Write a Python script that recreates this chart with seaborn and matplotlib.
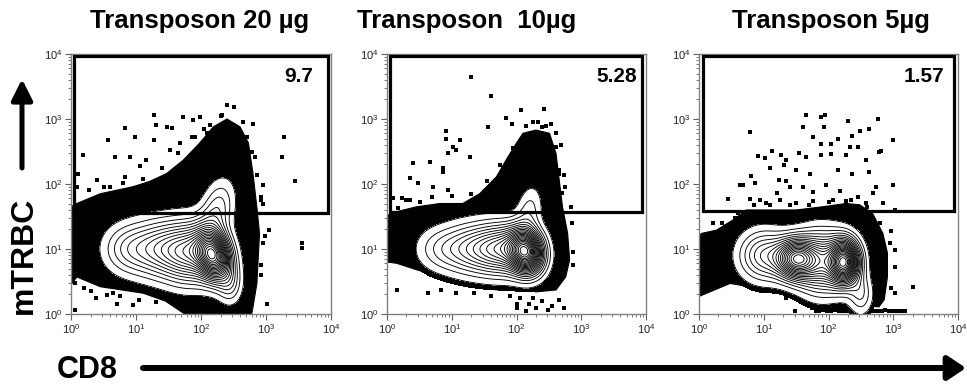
import numpy as np
import matplotlib
matplotlib.use("Agg")
import matplotlib.pyplot as plt
import seaborn as sns
from matplotlib.patches import FancyArrowPatch
from matplotlib.ticker import LogLocator, FuncFormatter, NullFormatter

sns.set_style("ticks")
plt.rcParams['font.family'] = ['Liberation Sans', 'DejaVu Sans']
plt.rcParams['text.color'] = 'black'
plt.rcParams['mathtext.fontset'] = 'custom'
plt.rcParams['mathtext.rm'] = 'Liberation Sans'
plt.rcParams['mathtext.it'] = 'Liberation Sans:italic'
plt.rcParams['mathtext.bf'] = 'Liberation Sans:bold'

# ---------------- data (log10 units) ----------------
titles = ["Transposon 20 µg", "Transposon  10µg", "Transposon 5µg"]
gate_pct = ["9.7", "5.28", "1.57"]
gate_x0 = [0.045, 0.05, 0.06]
gate_x1 = [3.95, 3.94, 3.94]
gate_y0 = [1.55, 1.57, 1.58]
gate_y1 = [3.97, 3.97, 3.97]
pct_x = [3.72, 3.86, 3.78]
pct_y = [3.65, 3.65, 3.65]

# main population: gaussian components (centre, spread, correlation, weight)
p1_mu_cd8 = [2.20, 1.85, 1.35, 0.85, 2.25, 2.45]
p1_mu_trbc = [0.90, 0.95, 1.00, 1.00, 1.60, 0.45]
p1_sd_cd8 = [0.17, 0.28, 0.30, 0.25, 0.17, 0.12]
p1_sd_trbc = [0.25, 0.30, 0.28, 0.25, 0.30, 0.20]
p1_rho = [-0.2, 0.0, 0.0, 0.0, 0.3, 0.0]
p1_w = [1.0, 0.55, 0.35, 0.18, 0.20, 0.15]

p2_mu_cd8 = [2.15, 1.80, 1.30, 0.80, 2.20]
p2_mu_trbc = [0.96, 1.00, 1.00, 1.00, 1.60]
p2_sd_cd8 = [0.17, 0.28, 0.30, 0.25, 0.13]
p2_sd_trbc = [0.22, 0.25, 0.25, 0.22, 0.25]
p2_rho = [-0.1, 0.0, 0.0, 0.0, 0.2]
p2_w = [1.0, 0.50, 0.30, 0.12, 0.12]

p3_mu_cd8 = [2.25, 1.50, 1.00, 1.90, 2.50]
p3_mu_trbc = [0.80, 0.85, 0.90, 0.80, 0.30]
p3_sd_cd8 = [0.15, 0.20, 0.25, 0.25, 0.12]
p3_sd_trbc = [0.22, 0.20, 0.25, 0.30, 0.20]
p3_rho = [0.0, 0.0, 0.0, 0.0, 0.0]
p3_w = [1.0, 0.80, 0.30, 0.50, 0.15]

# outline of the dense outlier cloud around each population
p1_cloud_cd8 = [0.00, 0.00, 0.09, 0.45, 0.96, 1.21, 1.47, 1.73, 1.98, 2.19, 2.40, 2.60, 2.73,
                2.80, 2.87, 2.90, 2.86, 2.80, 2.78, 1.75, 1.45, 1.11, 0.45, 0.09]
p1_cloud_trbc = [0.45, 1.65, 1.70, 1.85, 1.96, 2.04, 2.16, 2.37, 2.63, 2.88, 3.00, 2.88, 2.63,
                 2.16, 1.55, 1.24, 0.47, 0.11, 0.00, 0.00, 0.20, 0.32, 0.42, 0.57]

p2_cloud_cd8 = [0.00, 0.00, 0.05, 0.46, 0.82, 1.17, 1.43, 1.69, 1.84, 2.00, 2.10, 2.30, 2.51,
                2.61, 2.66, 2.71, 2.79, 2.82, 2.76, 2.61, 2.30, 2.00, 1.69, 1.43, 1.17, 0.82,
                0.46, 0.15]
p2_cloud_trbc = [0.80, 1.50, 1.55, 1.65, 1.70, 1.70, 1.85, 2.11, 2.37, 2.63, 2.78, 2.83, 2.78,
                 2.47, 2.06, 1.65, 1.24, 0.83, 0.57, 0.37, 0.34, 0.42, 0.37, 0.42, 0.47, 0.57,
                 0.68, 0.78]

p3_cloud_cd8 = [0.00, 0.00, 0.04, 0.27, 0.53, 0.73, 0.99, 1.25, 1.50, 1.91, 2.27, 2.48, 2.68,
                2.84, 2.91, 2.91, 2.86, 2.78, 2.48, 2.17, 1.66, 1.14, 0.78, 0.48, 0.12]
p3_cloud_trbc = [0.27, 1.20, 1.24, 1.29, 1.45, 1.60, 1.60, 1.60, 1.60, 1.65, 1.70, 1.68, 1.55,
                 1.24, 0.94, 0.57, 0.22, 0.11, 0.13, 0.22, 0.27, 0.34, 0.42, 0.47, 0.32]

# individual outlier events (log10 CD8, log10 mTRBC)
p1_dot_cd8 = [1.27, 1.73, 1.31, 0.98, 0.83, 0.57, 0.19, 0.11, 0.27, 0.40, 0.68, 0.91, 1.27, 1.47,
              1.55, 1.88, 1.98, 2.14, 2.40, 2.50, 2.32, 2.70, 2.80, 2.83, 2.86, 2.96, 2.93, 3.04,
              3.27, 3.24, 3.45, 3.55, 3.55, 3.01, 0.06, 0.70, 0.96, 0.16, 0.14, 0.09, 0.45, 0.29,
              0.60, 0.83, 1.06, 1.16, 1.52, 1.68, 1.86, 2.09, 0.09, 0.06, 0.30, 0.55, 0.75, 1.05,
              1.30, 0.20, 0.38, 0.65, 2.95, 2.98, 2.92, 0.50, 0.80, 1.10, 1.40, 1.65, 1.90, 2.05,
              2.30, 2.65, 2.78, 2.92, 2.95, 2.92]
p1_dot_trbc = [3.06, 3.03, 2.91, 2.73, 2.86, 2.68, 2.45, 2.16, 1.91, 2.06, 2.42, 2.42, 2.68, 2.88,
               2.86, 2.98, 3.03, 2.91, 3.22, 3.19, 3.06, 2.73, 2.93, 2.42, 2.14, 1.98, 1.75, 1.29,
               2.73, 2.42, 2.04, 1.10, 1.01, 0.16, 0.06, 0.16, 0.14, 1.47, 1.29, 1.96, 1.80, 1.70,
               1.96, 2.11, 2.27, 2.37, 2.52, 2.63, 2.73, 2.78, 0.73, 0.47, 0.35, 0.30, 0.28, 0.22,
               0.18, 0.40, 0.25, 0.33, 1.70, 1.20, 0.75, 1.95, 2.02, 2.08, 2.25, 2.48, 2.72, 2.85,
               3.05, 2.95, 2.50, 1.80, 1.10, 0.60]

p2_dot_cd8 = [1.29, 1.61, 2.07, 2.43, 1.84, 1.93, 2.25, 2.33, 2.40, 2.53, 1.56, 0.91, 0.91, 1.12,
              1.02, 1.07, 0.94, 1.28, 0.66, 0.40, 0.35, 0.48, 0.87, 0.87, 0.94, 0.71, 0.10, 0.23,
              0.35, 0.17, 0.51, 2.84, 2.71, 2.66, 2.66, 2.61, 2.61, 2.74, 2.87, 2.71, 0.15, 0.64,
              0.84, 1.07, 1.35, 1.61, 2.00, 2.00, 2.20, 2.30, 2.48, 2.74, 2.66, 2.05, 2.15, 2.40,
              2.55, 1.90, 2.25, 0.30, 0.70, 1.00, 1.30, 1.55, 1.75, 1.95, 2.15, 2.45, 2.68, 2.75,
              2.85, 2.88]
p2_dot_trbc = [3.65, 3.35, 3.14, 3.16, 3.01, 2.93, 2.96, 2.96, 2.88, 2.93, 2.88, 2.82, 2.70, 2.67,
               2.57, 2.52, 2.48, 2.42, 2.34, 2.32, 2.09, 2.01, 2.24, 2.19, 1.91, 1.96, 1.78, 1.78,
               1.75, 1.63, 1.73, 1.65, 1.86, 2.16, 2.21, 2.57, 2.78, 2.14, 0.75, 0.68, 0.37, 0.32,
               0.37, 0.32, 0.32, 0.27, 0.16, 0.09, 0.16, 0.09, 0.06, 0.09, 0.22, 0.25, 0.05, 0.20,
               0.12, 0.28, 0.24, 1.75, 1.80, 1.82, 1.85, 2.05, 2.30, 2.55, 2.90, 2.90, 2.60, 1.95,
               1.40, 0.95]

p3_dot_cd8 = [1.66, 1.89, 1.95, 2.30, 2.76, 0.78, 1.60, 1.93, 2.48, 2.62, 1.76, 1.89, 2.04, 2.14,
              2.37, 2.99, 2.33, 2.45, 1.55, 1.66, 1.35, 0.91, 1.02, 1.13, 1.27, 1.89, 2.04, 2.27,
              2.58, 2.78, 2.81, 1.09, 1.32, 1.50, 1.71, 2.14, 2.37, 2.63, 0.81, 1.24, 1.35, 0.63,
              0.68, 0.86, 1.20, 1.40, 1.60, 1.76, 1.96, 2.17, 2.45, 2.68, 2.73, 2.99, 0.45, 0.79,
              0.94, 1.04, 1.25, 1.50, 1.76, 2.07, 2.27, 2.58, 2.84, 3.02, 0.21, 0.55, 2.96, 3.02,
              3.02, 3.30, 3.02, 1.48, 1.74, 1.64, 1.35, 1.80, 1.86, 1.92, 1.98, 2.04, 2.10, 2.16,
              2.22, 2.28, 2.34, 2.40, 2.46, 2.52, 2.58, 2.64, 2.70, 2.76, 2.82, 2.88, 2.94, 3.00,
              3.06, 3.12, 3.18, 0.35, 0.60, 0.85, 1.10, 1.40, 1.70, 2.00, 2.35, 2.60, 2.80, 2.95,
              2.97]
p3_dot_trbc = [3.06, 3.03, 3.06, 2.97, 3.00, 2.80, 2.88, 2.88, 2.82, 2.85, 2.72, 2.62, 2.62, 2.69,
               2.74, 2.68, 2.57, 2.57, 2.47, 2.42, 2.37, 2.43, 2.40, 2.51, 2.44, 2.44, 2.46, 2.44,
               2.37, 2.50, 2.51, 2.24, 2.29, 2.22, 2.16, 2.22, 2.16, 2.19, 2.12, 2.06, 2.04, 1.98,
               1.98, 2.01, 1.86, 1.96, 1.96, 1.88, 1.98, 1.90, 1.80, 1.86, 1.95, 1.99, 1.77, 1.77,
               1.76, 1.71, 1.76, 1.71, 1.74, 1.76, 1.74, 1.71, 1.71, 1.60, 1.40, 1.47, 1.27, 0.98,
               0.73, 0.42, 0.32, 0.04, 0.09, 0.19, 0.24, 0.05, 0.05, 0.06, 0.05, 0.05, 0.06, 0.05,
               0.05, 0.05, 0.06, 0.05, 0.05, 0.05, 0.06, 0.05, 0.05, 0.05, 0.05, 0.06, 0.05, 0.05,
               0.05, 0.05, 0.05, 1.40, 1.55, 1.68, 1.68, 1.68, 1.68, 1.72, 1.76, 1.65, 1.40, 1.10,
               0.40]

panels = [
    dict(mu_u=p1_mu_cd8, mu_v=p1_mu_trbc, s_u=p1_sd_cd8, s_v=p1_sd_trbc, rho=p1_rho, w=p1_w,
         cu=p1_cloud_cd8, cv=p1_cloud_trbc, du=p1_dot_cd8, dv=p1_dot_trbc),
    dict(mu_u=p2_mu_cd8, mu_v=p2_mu_trbc, s_u=p2_sd_cd8, s_v=p2_sd_trbc, rho=p2_rho, w=p2_w,
         cu=p2_cloud_cd8, cv=p2_cloud_trbc, du=p2_dot_cd8, dv=p2_dot_trbc),
    dict(mu_u=p3_mu_cd8, mu_v=p3_mu_trbc, s_u=p3_sd_cd8, s_v=p3_sd_trbc, rho=p3_rho, w=p3_w,
         cu=p3_cloud_cd8, cv=p3_cloud_trbc, du=p3_dot_cd8, dv=p3_dot_trbc),
]

# ---------------- layout ----------------
W, H = 967, 387
fig = plt.figure(figsize=(W / 100, H / 100), dpi=100)
ax_left_px = [71, 387, 699]
ax_w_px = [260, 259, 259]
ax_top_px, ax_bot_px = 54, 314
title_x_px = [200, 467, 831]

U = np.linspace(0, 4, 401)
V = np.linspace(0, 4, 401)
UU, VV = np.meshgrid(U, V)
XX, YY = 10 ** UU, 10 ** VV

def mixture(p):
    M = np.zeros_like(UU)
    for mu, mv, su, sv, r, w in zip(p['mu_u'], p['mu_v'], p['s_u'], p['s_v'], p['rho'], p['w']):
        a = (UU - mu) / su
        b = (VV - mv) / sv
        q = (a * a - 2 * r * a * b + b * b) / (1 - r * r)
        M += w * np.exp(-0.5 * q)
    return M

fmt = FuncFormatter(lambda val, _: r"$10^{%d}$" % int(round(np.log10(val))))

for i, p in enumerate(panels):
    ax = fig.add_axes([ax_left_px[i] / W, (H - ax_bot_px) / H, ax_w_px[i] / W,
                       (ax_bot_px - ax_top_px) / H])
    ax.set_xscale('log')
    ax.set_yscale('log')

    M = mixture(p)
    peak = M.max()
    levels = peak * np.linspace(0.04, 0.96, 22)

    ax.fill(10 ** np.array(p['cu']), 10 ** np.array(p['cv']), color='black', lw=0.8,
            edgecolor='black', zorder=1)
    ax.contourf(XX, YY, M, levels=[peak * 0.02, peak * 2], colors=['black'], zorder=1)
    sns.scatterplot(x=10 ** np.array(p['du']), y=10 ** np.array(p['dv']), marker='s', s=7,
                    color='black', linewidth=0, ax=ax, legend=False, zorder=2)
    ax.contourf(XX, YY, M, levels=[levels[0], peak * 2], colors=['white'], zorder=3)
    ax.contour(XX, YY, M, levels=levels, colors='black', linewidths=0.65, zorder=4)

    gx0, gx1, gy0, gy1 = 10 ** gate_x0[i], 10 ** gate_x1[i], 10 ** gate_y0[i], 10 ** gate_y1[i]
    ax.plot([gx0, gx1, gx1, gx0, gx0], [gy0, gy0, gy1, gy1, gy0], color='black', lw=2.3,
            solid_joinstyle='miter', zorder=5)
    ax.text(10 ** pct_x[i], 10 ** pct_y[i], gate_pct[i], ha='right', va='center',
            fontsize=15, fontweight='bold', color='black', zorder=6)

    ax.set_xlim(1, 1e4)
    ax.set_ylim(1, 1e4)
    for s in ax.spines.values():
        s.set_color('#808080')
        s.set_linewidth(1.0)
    ax.xaxis.set_major_locator(LogLocator(base=10, numticks=10))
    ax.yaxis.set_major_locator(LogLocator(base=10, numticks=10))
    ax.xaxis.set_minor_locator(LogLocator(base=10, subs=np.arange(2, 10), numticks=20))
    ax.yaxis.set_minor_locator(LogLocator(base=10, subs=np.arange(2, 10), numticks=20))
    ax.xaxis.set_major_formatter(fmt)
    ax.yaxis.set_major_formatter(fmt)
    ax.xaxis.set_minor_formatter(NullFormatter())
    ax.yaxis.set_minor_formatter(NullFormatter())
    ax.tick_params(which='major', length=4, width=0.8, color='#606060', labelsize=8,
                   labelcolor='#222222', pad=2)
    ax.tick_params(which='minor', length=2.5, width=0.6, color='#606060')
    ax.set_xlabel('')
    ax.set_ylabel('')

    fig.text(title_x_px[i] / W, 1 - 28 / H, titles[i], ha='center', va='baseline',
             fontsize=18.5, fontweight='bold', color='black')

# axis labels with arrows
fig.text(24 / W, 1 - 255 / H, "mTRBC", rotation=90, ha='center', va='center',
         fontsize=23, fontweight='bold', color='black')
fig.text(87 / W, 1 - 370 / H, "CD8", ha='center', va='center', fontsize=22,
         fontweight='bold', color='black')
fig.add_artist(FancyArrowPatch(
    (22 / W, 1 - 168 / H), (22 / W, 1 - 79 / H), transform=fig.transFigure,
    arrowstyle='-|>,head_length=0.7,head_width=0.35', mutation_scale=18, lw=3.6,
    color='black', shrinkA=0, shrinkB=0))
fig.add_artist(FancyArrowPatch(
    (143 / W, 1 - 368 / H), (966 / W, 1 - 368 / H), transform=fig.transFigure,
    arrowstyle='-|>,head_length=0.6,head_width=0.4', mutation_scale=18, lw=4.3,
    color='black', shrinkA=0, shrinkB=0))

fig.savefig("out.png", dpi=100)
